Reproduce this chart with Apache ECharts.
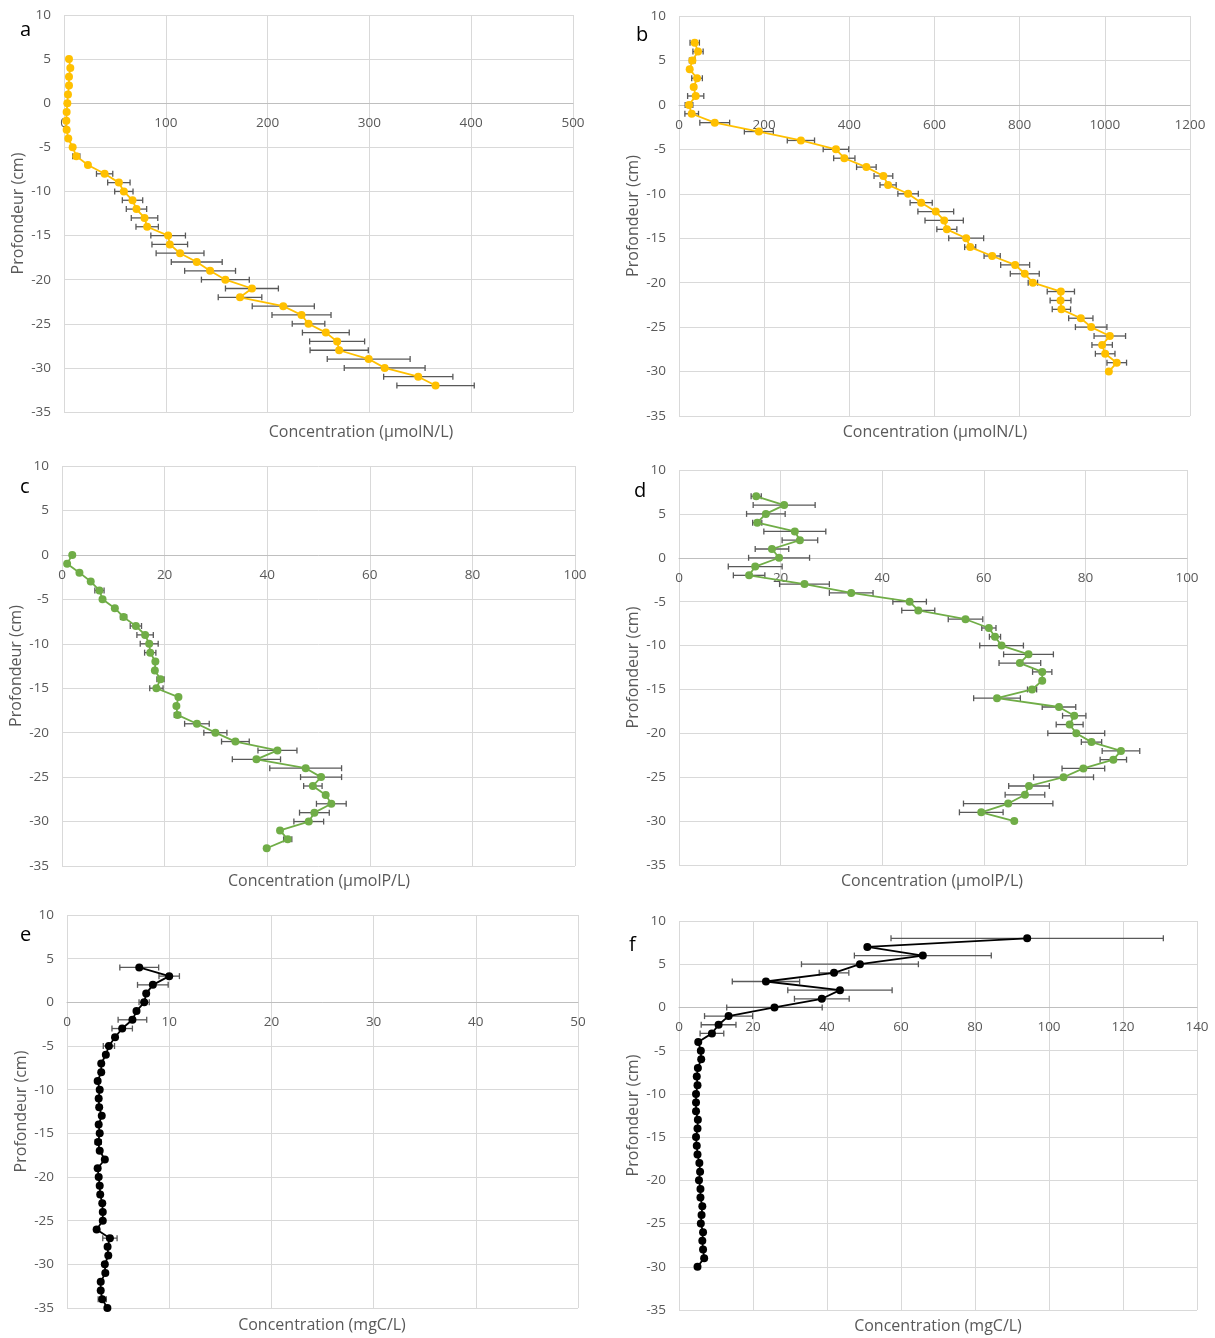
<!DOCTYPE html>
<html>
<head>
<meta charset="utf-8">
<script src="https://cdn.jsdelivr.net/npm/echarts@6/dist/echarts.min.js"></script>
<style>
html,body{margin:0;padding:0;background:#fff;}
#chart{width:1215px;height:1338px;}
</style>
</head>
<body>
<div id="chart"></div>
<script>
// ---------- DATA ----------
const depthA = [5,4,3,2,1,0,-1,-2,-3,-4,-5,-6,-7,-8,-9,-10,-11,-12,-13,-14,-15,-16,-17,-18,-19,-20,-21,-22,-23,-24,-25,-26,-27,-28,-29,-30,-31,-32];
const concA = [4.9,6.2,4.9,4.9,3.9,3.3,2.6,2.3,2.6,4.2,8.5,12.1,23.5,39.9,53.9,58.8,67.3,71.2,79.1,81.7,102.3,103.9,114,130.4,143.5,158.5,184.6,172.9,215.4,233.3,240.2,257.2,268.3,270.3,299.3,315,348,365];
const errA = [0,0,0,0,0,0,0,0,0,0,0,3.5,0,8,11,9,10,10,13,11,17,17.5,23.5,25,25,23.5,26,21.4,30.5,29,16,23,27,28.6,40.7,39.7,34,38];

const depthB = [7,6,5,4,3,2,1,0,-1,-2,-3,-4,-5,-6,-7,-8,-9,-10,-11,-12,-13,-14,-15,-16,-17,-18,-19,-20,-21,-22,-23,-24,-25,-26,-27,-28,-29,-30];
const concB = [36.9,44.7,31.4,25.1,42.4,34.5,39.2,23.5,29.8,83.9,187.5,286.3,368.6,388.2,440,480,491,538,568.7,603,622.7,629,674.4,683.8,735.4,789.4,812,831,896.7,896,898,943.6,967.9,1011.7,993.7,1000.8,1028,1009.4];
const errB = [11,12,7,0,12.5,5,19,9,16,35,34,32,30,25,23,22,19,24,26,42,45,23.5,41,13,19,34,34,11,32,24.5,21.5,28.5,37,37,24,23,23,0];

const depthC = [0,-1,-2,-3,-4,-5,-6,-7,-8,-9,-10,-11,-12,-13,-14,-15,-16,-17,-18,-19,-20,-21,-22,-23,-24,-25,-26,-27,-28,-29,-30,-31,-32,-33];
const concC = [2.0,1.0,3.4,5.6,7.3,7.9,10.3,12.0,14.4,16.2,17.0,17.2,18.2,18.1,19.2,18.4,22.7,22.3,22.5,26.3,29.9,33.8,42.0,37.9,47.5,50.5,48.9,51.4,52.5,49.2,48.1,42.5,44.0,39.9];
const errC = [0,0,0,0,0.9,0,0,0.6,1.1,1.6,1.75,1.1,0,0,0.7,1.3,0,0,0.6,2.4,2.25,2.7,3.8,4.7,7,4,1.8,0,2.9,2.9,2.9,0,0.8,0];

const depthD = [7,6,5,4,3,2,1,0,-1,-2,-3,-4,-5,-6,-7,-8,-9,-10,-11,-12,-13,-14,-15,-16,-17,-18,-19,-20,-21,-22,-23,-24,-25,-26,-27,-28,-29,-30];
const concD = [15.2,20.7,17.1,15.4,22.8,23.8,18.3,19.7,15.0,13.8,24.7,33.9,45.4,47.1,56.4,61.0,62.2,63.5,68.8,67.1,71.5,71.5,69.5,62.6,74.8,77.8,76.9,78.2,81.2,87.0,85.5,79.6,75.7,68.9,68.1,64.8,59.5,66.0];
const errD = [1,6.1,3.8,0.9,6.1,3.5,3.3,6,5.3,3.1,4.9,4.3,3.3,3.25,3.4,1.4,1.1,4.3,4.9,4.1,1.9,0,0.9,4.6,3.3,2.3,2.65,5.6,2,3.7,2.6,4.2,5.9,4,3.9,8.8,4.3,0];

const depthE = [4,3,2,1,0,-1,-2,-3,-4,-5,-6,-7,-8,-9,-10,-11,-12,-13,-14,-15,-16,-17,-18,-19,-20,-21,-22,-23,-24,-25,-26,-27,-28,-29,-30,-31,-32,-33,-34,-35];
const concE = [7.07,10.0,8.4,7.75,7.55,6.8,6.4,5.4,4.7,4.1,3.8,3.35,3.35,3.0,3.2,3.1,3.15,3.4,3.1,3.2,3.05,3.2,3.7,3.0,3.1,3.2,3.25,3.45,3.5,3.5,2.9,4.2,3.97,4.04,3.7,3.75,3.3,3.3,3.45,3.95];
const errE = [1.9,1.0,1.5,0,0.5,0,1.4,1.0,0,0.55,0,0,0,0,0,0,0,0,0,0,0.3,0,0,0,0,0,0,0,0,0,0,0.7,0,0,0,0,0,0,0.4,0];

const depthF = [8,7,6,5,4,3,2,1,0,-1,-2,-3,-4,-5,-6,-7,-8,-9,-10,-11,-12,-13,-14,-15,-16,-17,-18,-19,-20,-21,-22,-23,-24,-25,-26,-27,-28,-29,-30];
const concF = [94.1,50.9,65.9,48.9,41.9,23.5,43.5,38.6,25.8,13.4,10.7,8.9,5.2,5.9,6.0,5.1,4.8,5.0,4.6,4.6,4.6,5.1,5.0,4.6,4.8,5.0,5.5,5.7,5.4,5.8,5.8,6.3,6.1,5.9,6.5,6.3,6.5,6.8,5.0];
const errF = [36.8,0,18.5,15.8,4,9.1,14.1,7.4,12.9,6.5,4.7,3.2,0,0,0,0,0,0,0,0,0,0,0,0,0,0,0,0,0,0,0,0,0,0,0,0,0,0,0];

const panelLetters = ['a','b','c','d','e','f'];
const xTitles = ['Concentration (µmolN/L)','Concentration (µmolN/L)','Concentration (µmolP/L)','Concentration (µmolP/L)','Concentration (mgC/L)','Concentration (mgC/L)'];
const yTitle = 'Profondeur (cm)';
const xMax = [500,1200,100,100,50,140];
const xInterval = [100,200,20,20,10,20];
const yMin = -35, yMax = 10, yInterval = 5;

// ---------- LAYOUT / STYLE ----------
const FONT = 'Open Sans';
const panels = [
  {depth:depthA, conc:concA, err:errA, color:'#FFC000', grid:{left:64,top:15,width:509,height:397}, letter:[20,34], title:[361,432]},
  {depth:depthB, conc:concB, err:errB, color:'#FFC000', grid:{left:679,top:16,width:511,height:400}, letter:[636,39], title:[935,432]},
  {depth:depthC, conc:concC, err:errC, color:'#70AD47', grid:{left:62,top:466,width:513,height:400}, letter:[20,491], title:[319,881]},
  {depth:depthD, conc:concD, err:errD, color:'#70AD47', grid:{left:679,top:470,width:508,height:395}, letter:[634,495], title:[932,881]},
  {depth:depthE, conc:concE, err:errE, color:'#000000', grid:{left:67,top:915,width:511,height:393}, letter:[20,939], title:[322,1325]},
  {depth:depthF, conc:concF, err:errF, color:'#000000', grid:{left:679,top:921,width:518,height:389}, letter:[629,949], title:[938,1326]}
];

const grids = [], xAxes = [], yAxes = [], series = [], graphics = [];
panels.forEach((p, i) => {
  grids.push(Object.assign({containLabel:false}, p.grid));
  // x axis is drawn across the depth-0 line (Excel "axis crosses at 0")
  const zeroOffset = -p.grid.height * (0 - yMin) / (yMax - yMin);
  xAxes.push({
    type:'value', gridIndex:i, min:0, max:xMax[i], interval:xInterval[i],
    position:'bottom', offset:zeroOffset,
    axisLine:{show:true, onZero:false, lineStyle:{color:'#bfbfbf', width:1}},
    axisTick:{show:false},
    axisLabel:{color:'#595959', fontSize:13.5, fontFamily:FONT, margin:13, formatter:v => String(v)},
    splitLine:{show:true, lineStyle:{color:'#d9d9d9', width:1}}
  });
  yAxes.push({
    type:'value', gridIndex:i, min:yMin, max:yMax, interval:yInterval,
    axisLine:{show:false}, axisTick:{show:false},
    axisLabel:{color:'#595959', fontSize:13.5, fontFamily:FONT, margin:13},
    splitLine:{show:true, lineStyle:{color:'#d9d9d9', width:1}},
    name:yTitle, nameLocation:'middle', nameRotate:90, nameGap:38,
    nameTextStyle:{color:'#595959', fontSize:16, fontFamily:FONT}
  });
  series.push({
    type:'custom', xAxisIndex:i, yAxisIndex:i, z:2,
    data:p.depth.map((d,k)=>[p.conc[k], d, p.err[k]]),
    encode:{x:0, y:1},
    renderItem:function(params, api){
      const x = api.value(0), y = api.value(1), e = api.value(2);
      if (!e) return null;
      const a = api.coord([x - e, y]), b = api.coord([x + e, y]);
      const h = 3, st = {stroke:'#595959', lineWidth:1.3};
      return {type:'group', children:[
        {type:'line', shape:{x1:a[0], y1:a[1], x2:b[0], y2:b[1]}, style:st},
        {type:'line', shape:{x1:a[0], y1:a[1]-h, x2:a[0], y2:a[1]+h}, style:st},
        {type:'line', shape:{x1:b[0], y1:b[1]-h, x2:b[0], y2:b[1]+h}, style:st}
      ]};
    },
    silent:true
  });
  series.push({
    type:'line', xAxisIndex:i, yAxisIndex:i, z:3,
    data:p.depth.map((d,k)=>[p.conc[k], d]),
    symbol:'circle', symbolSize:8, showSymbol:true,
    lineStyle:{color:p.color, width:1.8},
    itemStyle:{color:p.color},
    animation:false
  });
  graphics.push({type:'text', left:p.letter[0], top:p.letter[1]-14,
    style:{text:panelLetters[i], fill:'#000', font:'20px "' + FONT + '"'}});
  graphics.push({type:'text', x:p.title[0], y:p.title[1],
    style:{text:xTitles[i], fill:'#595959', font:'16px "' + FONT + '"', textAlign:'center', textVerticalAlign:'middle'}});
});

const chart = echarts.init(document.getElementById('chart'), null, {renderer:'canvas'});
chart.setOption({
  animation:false,
  backgroundColor:'#ffffff',
  textStyle:{fontFamily:FONT},
  grid:grids, xAxis:xAxes, yAxis:yAxes, series:series, graphic:graphics
});
</script>
</body>
</html>
